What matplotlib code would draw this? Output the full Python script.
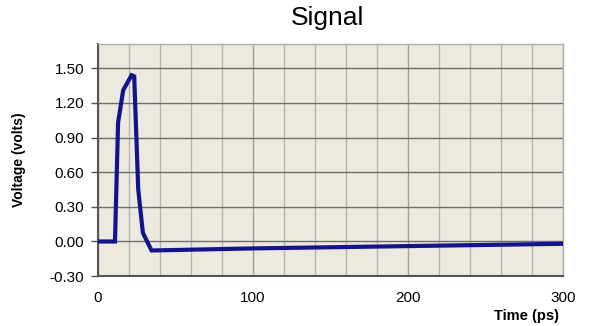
import numpy as np
import matplotlib.pyplot as plt
from matplotlib.ticker import MultipleLocator

plt.rcParams['font.family'] = ['Liberation Sans', 'DejaVu Sans']

# signal samples
time_ps = [0, 11, 13, 16.3, 21.7, 23.4, 26, 29, 34.6, 100, 200, 300]
voltage = [0.0, 0.0, 1.03, 1.31, 1.44, 1.43, 0.45, 0.075, -0.078, -0.06, -0.04, -0.02]
y_ticks = [-0.30, 0.00, 0.30, 0.60, 0.90, 1.20, 1.50]
x_ticks = [0, 100, 200, 300]

fig = plt.figure(figsize=(5.9, 3.26), dpi=100)
ax = fig.add_axes([0.166, 0.153, 0.788, 0.712])
ax.set_facecolor('#ECE9DF')

ax.plot(time_ps, voltage, color='#14148A', lw=3.0, solid_joinstyle='miter', zorder=3)

ax.set_xlim(0, 300)
ax.set_ylim(-0.30, 1.71)
ax.set_xticks(x_ticks)
ax.set_yticks(y_ticks)
ax.set_yticklabels(['%.2f' % v for v in y_ticks])
ax.xaxis.set_minor_locator(MultipleLocator(20))

ax.grid(which='major', axis='y', color='#6E6E6E', lw=1.0, zorder=1)
ax.grid(which='major', axis='x', color='#A0A0A0', lw=1.0, zorder=1)
ax.grid(which='minor', axis='x', color='#B4B4B4', lw=1.0, zorder=1)

ax.tick_params(axis='y', length=5, width=1, color='#555555', labelsize=11, pad=5)
ax.tick_params(axis='x', which='major', length=0, labelsize=11, pad=11)
ax.tick_params(axis='x', which='minor', length=0)

for side in ['left', 'bottom']:
    ax.spines[side].set_color('#555555')
    ax.spines[side].set_linewidth(1.5)
for side in ['top', 'right']:
    ax.spines[side].set_color('#B0B0B0')
    ax.spines[side].set_linewidth(1.0)

fig.text(0.032, 0.51, 'Voltage (volts)', fontsize=10, fontweight='bold',
         rotation=90, ha='center', va='center')
fig.text(0.893, 0.03, 'Time (ps)', fontsize=10.5, fontweight='bold', ha='center', va='center')
fig.text(0.555, 0.945, 'Signal', fontsize=19, ha='center', va='center')

fig.savefig('out.png', dpi=100, facecolor='white')
